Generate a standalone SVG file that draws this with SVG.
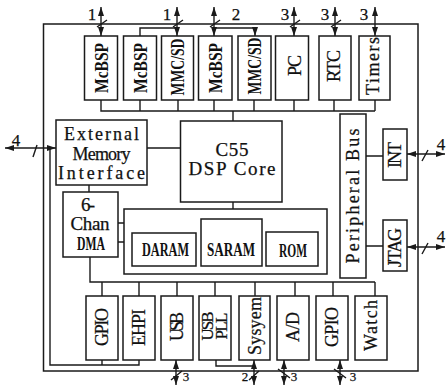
<svg xmlns="http://www.w3.org/2000/svg" width="447" height="385" viewBox="0 0 447 385">
<style>
.b{fill:#fff;stroke:#1a1a1a;stroke-width:1.5}
.l{fill:none;stroke:#1a1a1a;stroke-width:1.4}
.a{fill:none;stroke:#1a1a1a;stroke-width:1.4;marker-start:url(#ah);marker-end:url(#ah)}
.e{fill:none;stroke:#1a1a1a;stroke-width:1.4;marker-end:url(#ah)}
text{font-family:"Liberation Serif","Times New Roman",serif;fill:#111;text-anchor:middle}
.t{font-size:18px;stroke:#111;stroke-width:0.25}
.bd{font-size:18px;font-weight:bold}
.n{font-size:17px;stroke:#111;stroke-width:0.25}
.s{font-size:13px;stroke:#111;stroke-width:0.25}
</style>
<defs>
<marker id="ah" viewBox="0 0 9 6" refX="9" refY="3" markerWidth="9" markerHeight="6" markerUnits="userSpaceOnUse" orient="auto-start-reverse">
<path d="M0,0 L9,3 L0,6 z" fill="#1a1a1a"/>
</marker>
</defs>
<rect class="b" x="43.5" y="24" width="374.5" height="347" fill="none"/>
<g id="connectors">
<path class="l" d="M101,100V111H375 M140,100V111 M178,100V111 M214,100V111 M254,100V111 M294,100V111 M334,100V111 M375,100V111 M233,111V121"/>
<path class="l" d="M233,202V209"/>
<path class="l" d="M147,148H180 M89,185V192"/>
<path class="l" d="M118,223H201 M118,242H132"/>
<path class="l" d="M90,257V282H375 M102,282V296 M139,282V296 M177,282V296 M215,282V296 M255,282V296 M295,282V296 M333,282V296 M375,282V296"/>
<path class="l" d="M366,156H383 M366,246H383"/>
<path class="l" d="M50,148V365H139V360 M102,360V365"/>
<path class="l" d="M216,360V366H254"/>
<path class="a" d="M101,7V36"/>
<path class="a" d="M177,7V36"/>
<path class="a" d="M214,7V36"/>
<path class="a" d="M294,7V36"/>
<path class="a" d="M335,7V36"/>
<path class="a" d="M375,7V36"/>
<path class="l" d="M140,36V28H177"/>
<path class="e" d="M214,28H255V36"/>
<path class="l" d="M97,27L107,20 M173,27L183,20 M210,27L220,20 M290,27L300,20 M331,27L341,20"/>
<path class="a" d="M5,148H56"/>
<path class="l" d="M33,157L37,145"/>
<path class="a" d="M407,154H445"/>
<path class="a" d="M407,247H445"/>
<path class="l" d="M422,161L428,150 M422,254L428,243"/>
<path class="a" d="M176,360V385"/>
<path class="a" d="M254,360V385"/>
<path class="a" d="M284,360V385"/>
<path class="a" d="M340,360V385"/>
<path class="l" d="M171,380L182,371 M249,380L259,371 M278,369L290,378 M334,369L346,378"/>
</g>
<g id="numbers">
<text class="n" x="92" y="20">1</text>
<text class="n" x="167" y="20">1</text>
<text class="n" x="236" y="20">2</text>
<text class="n" x="285" y="20">3</text>
<text class="n" x="325" y="20">3</text>
<text class="n" x="364" y="20">3</text>
<text class="n" x="16" y="146">4</text>
<text class="n" x="441" y="150">4</text>
<text class="n" x="441" y="242">4</text>
<text class="s" x="186" y="381">3</text>
<text class="s" x="245" y="381">2</text>
<text class="s" x="294" y="381">3</text>
<text class="s" x="353" y="381">3</text>
</g>
<g id="mcbsp1"><rect class="b" x="84.5" y="36" width="33" height="64"/><text class="bd" transform="translate(108,68) rotate(-90)" textLength="50" lengthAdjust="spacingAndGlyphs">McBSP</text></g>
<g id="mcbsp2"><rect class="b" x="123.5" y="36" width="33" height="64"/><text class="bd" transform="translate(146.5,68) rotate(-90)" textLength="50" lengthAdjust="spacingAndGlyphs">McBSP</text></g>
<g id="mmcsd1"><rect class="b" x="161.5" y="36" width="32" height="64"/><text class="bd" transform="translate(183.5,67) rotate(-90)" textLength="57" lengthAdjust="spacingAndGlyphs">MMC/SD</text></g>
<g id="mcbsp3"><rect class="b" x="198.5" y="36" width="33.5" height="64"/><text class="bd" transform="translate(221.5,68) rotate(-90)" textLength="50" lengthAdjust="spacingAndGlyphs">McBSP</text></g>
<g id="mmcsd2"><rect class="b" x="238" y="36" width="33" height="64"/><text class="bd" transform="translate(261,66) rotate(-90)" textLength="57" lengthAdjust="spacingAndGlyphs">MMC/SD</text></g>
<g id="pc"><rect class="b" x="275.5" y="36" width="33" height="64"/><text class="t" transform="translate(301,65.5) rotate(-90)" textLength="21">PC</text></g>
<g id="rtc"><rect class="b" x="319" y="36" width="32" height="64"/><text class="t" transform="translate(340,66) rotate(-90)" textLength="32">RTC</text></g>
<g id="timers"><rect class="b" x="359" y="36" width="31" height="64"/><text class="t" transform="translate(379,66) rotate(-90)" textLength="58">Timers</text></g>
<g id="emi"><rect class="b" x="56" y="120" width="91" height="65"/>
<text class="t" x="101.5" y="140" textLength="75">External</text>
<text class="t" x="101.5" y="159.5" textLength="58">Memory</text>
<text class="t" x="101.5" y="179" textLength="87">Interface</text></g>
<g id="c55"><rect class="b" x="180.5" y="121" width="101.5" height="81"/>
<text class="t" style="font-size:19px" x="232" y="156" textLength="33">C55</text>
<text class="t" style="font-size:19px" x="232" y="175" textLength="87">DSP Core</text></g>
<g id="dma"><rect class="b" x="63" y="192" width="55" height="65"/>
<text class="t" style="font-size:19px" x="88" y="211" textLength="14">6-</text>
<text class="t" style="font-size:19px" x="90" y="230" textLength="39">Chan</text>
<text class="bd" style="font-weight:600" x="91" y="250" textLength="28" lengthAdjust="spacingAndGlyphs">DMA</text></g>
<g id="memory"><rect class="b" x="124" y="209" width="203" height="65"/></g>
<g id="saram"><rect class="b" x="201" y="219" width="61" height="47"/><text class="bd" style="font-weight:600" x="231" y="256" textLength="48" lengthAdjust="spacingAndGlyphs">SARAM</text></g>
<g id="daram"><rect class="b" x="132" y="233" width="64" height="33"/><text class="bd" style="font-weight:600" x="165.5" y="256" textLength="47" lengthAdjust="spacingAndGlyphs">DARAM</text></g>
<g id="rom"><rect class="b" x="266" y="232" width="52" height="34"/><text class="bd" style="font-weight:600" x="293" y="257" textLength="28" lengthAdjust="spacingAndGlyphs">ROM</text></g>
<g id="periph"><rect class="b" x="340" y="114" width="26" height="164"/><text class="t" transform="translate(359,196) rotate(-90)" textLength="135">Peripheral Bus</text></g>
<g id="int"><rect class="b" x="383" y="129" width="24" height="51"/><text class="t" transform="translate(401,155) rotate(-90)" textLength="26">INT</text></g>
<g id="jtag"><rect class="b" x="383" y="220" width="24" height="51"/><text class="t" transform="translate(401,247.5) rotate(-90)" textLength="39">JTAG</text></g>
<g id="gpio1"><rect class="b" x="86" y="296" width="32" height="64"/><text class="t" transform="translate(108,327) rotate(-90)" textLength="38">GPIO</text></g>
<g id="ehpi"><rect class="b" x="123" y="296" width="32" height="64"/><text class="t" transform="translate(145,327.5) rotate(-90)" textLength="37">EHPI</text></g>
<g id="usb"><rect class="b" x="161" y="296" width="32" height="64"/><text class="t" transform="translate(183,326.5) rotate(-90)" textLength="29">USB</text></g>
<g id="usbpll"><rect class="b" x="199" y="296" width="32" height="64"/><text class="t" style="font-size:17px" transform="translate(213,326) rotate(-90)" textLength="29">USB</text><text class="t" style="font-size:17px" transform="translate(227,326) rotate(-90)" textLength="27">PLL</text></g>
<g id="sysyem"><rect class="b" x="239" y="296" width="31" height="64"/><text class="t" transform="translate(261,326) rotate(-90)" textLength="58">Sysyem</text></g>
<g id="ad"><rect class="b" x="277" y="296" width="32" height="64"/><text class="t" transform="translate(299,327) rotate(-90)" textLength="30">A/D</text></g>
<g id="gpio2"><rect class="b" x="316" y="296" width="32" height="64"/><text class="t" transform="translate(338,327) rotate(-90)" textLength="40">GPIO</text></g>
<g id="watch"><rect class="b" x="355" y="296" width="32" height="64"/><text class="t" transform="translate(377,325.5) rotate(-90)" textLength="51">Watch</text></g>
</svg>
